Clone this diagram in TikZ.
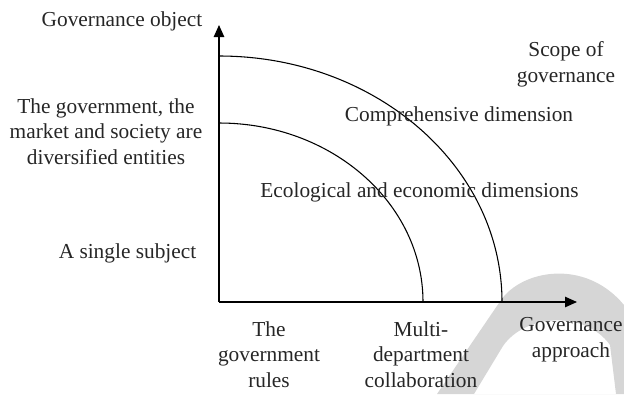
\documentclass[tikz,border=0pt]{standalone}
\usepackage{fontspec}
\setmainfont{Liberation Serif}
\usetikzlibrary{arrows.meta}
\begin{document}
\begin{tikzpicture}[x={(0.75pt,0)},y={(0,-0.75pt)},
  axis/.style={line width=1.1pt,-{Triangle[length=9pt,width=7.8pt]}},
  ring/.style={line width=0.8pt},
  lbl/.style={font=\fontsize{16pt}{19pt}\selectfont,inner sep=0pt,anchor=base,align=center,text=black!85},
  emblem/.style={fill=black!16,draw=none}]
\useasboundingbox (0,0) rectangle (624,394);
% background emblem
\fill[emblem,even odd rule] (437,394) -- (501,300) .. controls (522,270) and (585,258) .. (624,305) -- (624,394) -- cycle
  (474,394) -- (503,346) .. controls (525,314) and (585,310) .. (610,345) -- (616,394) -- cycle;
% axes
\coordinate (O) at (219,302);
\coordinate (ytip) at (219,25);
\coordinate (xtip) at (577,302);
\draw[axis] (O) -- (ytip);
\draw[axis] (O) -- (xtip);
% quarter ellipses
\coordinate (outerTop) at (219,56);
\coordinate (innerTop) at (219,123);
\draw[ring] (outerTop) arc[start angle=90,end angle=0,x radius=212.25pt,y radius=184.5pt];
\draw[ring] (innerTop) arc[start angle=90,end angle=0,x radius=153pt,y radius=134.25pt];
% labels (multi-line nodes sit on the baseline of their last line)
\node[lbl] (yname) at (122,26) {Governance object};
\node[lbl] (ymulti) at (106,164) {The government, the\\market and society are\\diversified entities};
\node[lbl] (ysingle) at (127.5,258) {A single subject};
\node[lbl] (scope) at (566,82) {Scope of\\governance};
\node[lbl] (comp) at (459,121) {Comprehensive dimension};
\node[lbl] (eco) at (419.5,197) {Ecological and economic dimensions};
\node[lbl] (rules) at (269,387) {The\\government\\rules};
\node[lbl] (multi) at (421,387) {Multi-\\department\\collaboration};
\node[lbl] (xname) at (571,357) {Governance\\approach};
\end{tikzpicture}
\end{document}
